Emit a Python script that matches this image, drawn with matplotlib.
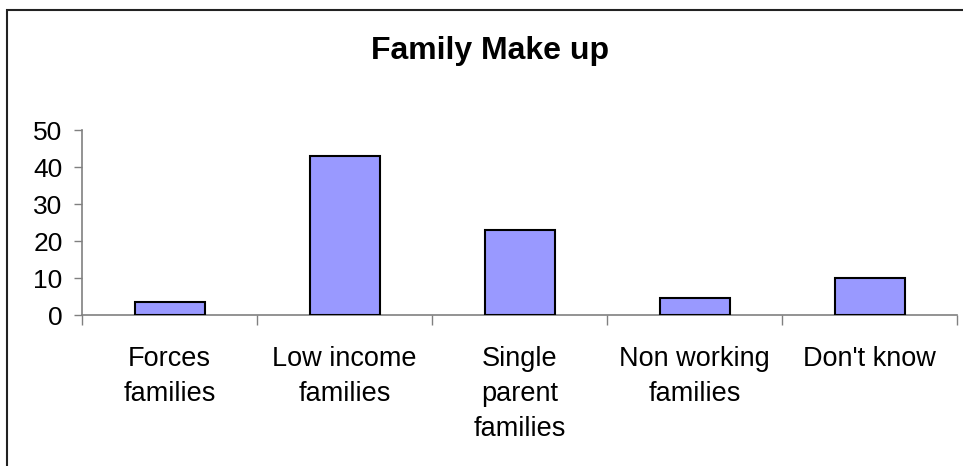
import matplotlib.pyplot as plt
from matplotlib.patches import Rectangle
import numpy as np

categories = ["Forces\nfamilies", "Low income\nfamilies", "Single\nparent\nfamilies",
              "Non working\nfamilies", "Don't know"]
values = [3.5, 43, 23, 4.7, 10]
y_ticks = [0, 10, 20, 30, 40, 50]

plt.rcParams['font.family'] = ['Liberation Sans', 'DejaVu Sans']

fig = plt.figure(figsize=(9.63, 4.66), dpi=100)
ax = fig.add_axes([82 / 963, 1 - 315.3 / 466, (957 - 82) / 963, (315.3 - 130.3) / 466])

x = np.arange(len(categories))
ax.bar(x, values, width=0.4, color='#9999FF', edgecolor='black', linewidth=1.5, zorder=3)

ax.set_xlim(-0.5, len(categories) - 0.5)
ax.set_ylim(0, 50)
ax.set_yticks(y_ticks)
ax.tick_params(axis='y', direction='out', length=6, width=1, color='#808080',
               labelsize=19, pad=8)

# boundary ticks between categories, labels sit at the category centres
ax.set_xticks(np.arange(-0.5, len(categories)), labels=[''] * (len(categories) + 1))
ax.set_xticks(x, labels=categories, minor=True)
ax.tick_params(axis='x', which='major', direction='out', length=7, width=1, color='#808080')
ax.tick_params(axis='x', which='minor', length=0, labelsize=19.5, pad=22)
for lbl in ax.get_xticklabels(minor=True):
    lbl.set_linespacing(1.46)
    lbl.set_verticalalignment('top')

for side in ['top', 'right']:
    ax.spines[side].set_visible(False)
for side in ['left', 'bottom']:
    ax.spines[side].set_color('#808080')
    ax.spines[side].set_linewidth(1.2)

fig.text(490 / 963, 1 - 51 / 466, 'Family Make up', ha='center', va='center',
         fontsize=23, fontweight='bold')

# chart frame
fig.patches.append(Rectangle((7 / 963, -0.1), 1.2, 1.1 - 10 / 466, transform=fig.transFigure,
                             fill=False, edgecolor='#222222', linewidth=1.5))

fig.savefig('out.png', dpi=100)
